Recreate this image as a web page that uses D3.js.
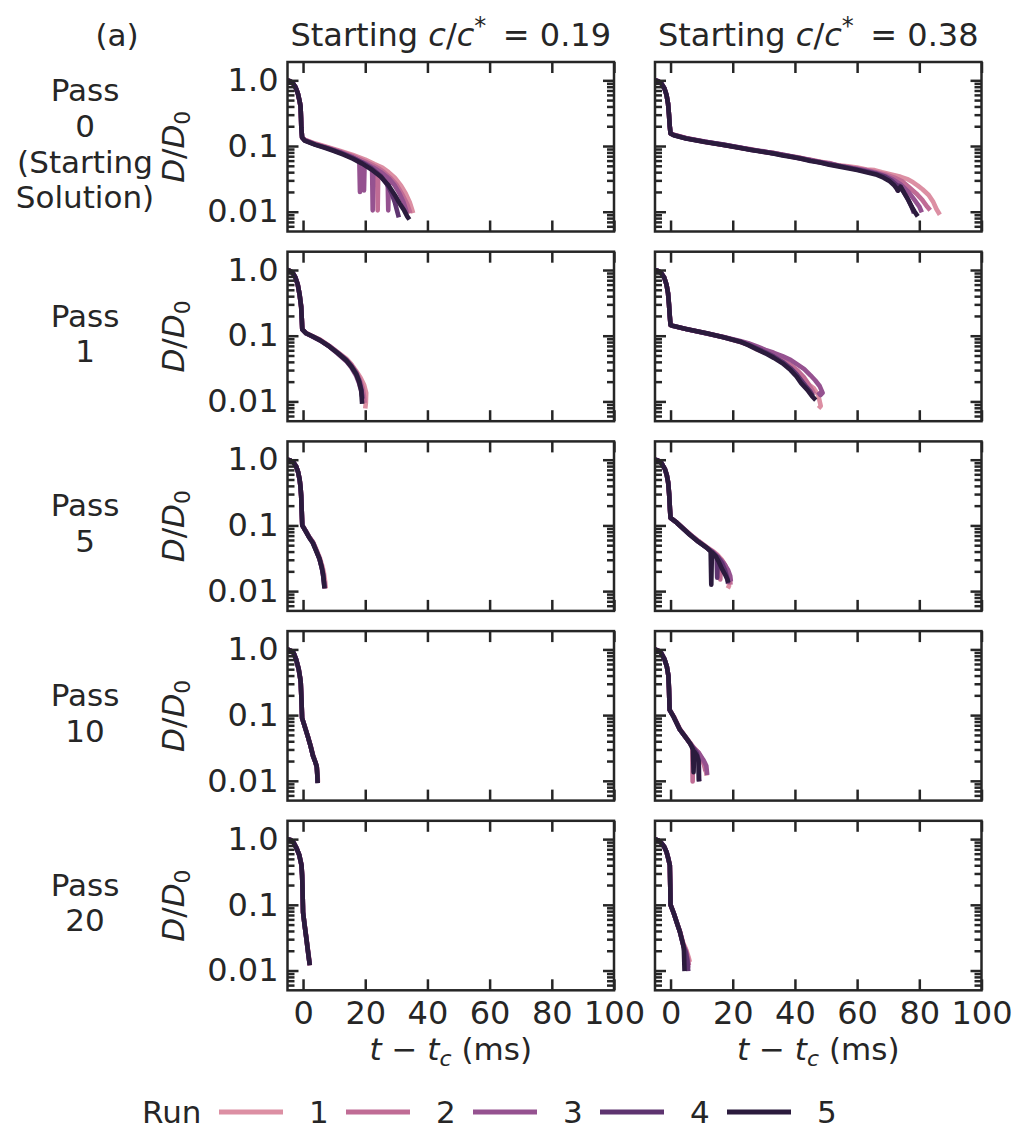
<!DOCTYPE html>
<html>
<head>
<meta charset="utf-8">
<script src="https://cdn.jsdelivr.net/npm/d3@7"></script>
<style>
body { margin: 0; background: #fff; }
text { font-family: "DejaVu Sans"; font-size: 31px; fill: #262626; }
.tick text { font-size: 32px; }
.title { font-size: 32px; }
.it { font-style: italic; }
</style>
</head>
<body>
<div class="chart"></div>
<script>
const runs = ["1", "2", "3", "4", "5"]
const runColors = ["#dc8fa3", "#c06c95", "#955290", "#5e3470", "#2b1b3d"]
const passLabels = [["Pass", "0", "(Starting", "Solution)"], ["Pass", "1"], ["Pass", "5"], ["Pass", "10"], ["Pass", "20"]]
const concs = ["0.19", "0.38"]
const xTicks = [0, 20, 40, 60, 80, 100]
const yTicks = [1, 0.1, 0.01]
const yTickLabels = ["1.0", "0.1", "0.01"]
const yMinor = [0.006, 0.007, 0.008, 0.009, 0.02, 0.03, 0.04, 0.05, 0.06, 0.07, 0.08, 0.09,
                0.2, 0.3, 0.4, 0.5, 0.6, 0.7, 0.8, 0.9]

// each panel: an onset shared by the runs, then one tail per run (run 1 .. run 5), points are [t - tc, D/D0]
const p0LowOnset = [[-5,1],[-4.2,0.97],[-3.3,0.91],[-2.5,0.8],[-1.7,0.64],[-1.1,0.48],[-0.8,0.4],[-0.65,0.27],[-0.55,0.19],[-0.3,0.135]]
const p0LowTails = [
  [[0.5,0.125],[4,0.109],[8,0.096],[12,0.084],[16,0.073],[20,0.062],[23,0.053],[25.5,0.047],[27.5,0.04],[29.5,0.033],[31.5,0.025],[33,0.019],[34.3,0.014],[35,0.011],[35.4,0.0095]],
  [[0.5,0.124],[4,0.107],[8,0.094],[12,0.082],[16,0.07],[20,0.058],[22,0.052],[23.8,0.047],[24,0.0105],[24.2,0.046],[26,0.04],[28,0.033],[30,0.026],[32,0.018],[33.5,0.013],[34.5,0.0095]],
  [[0.5,0.123],[4,0.106],[8,0.093],[12,0.08],[16,0.067],[18.1,0.059],[18.3,0.02],[18.5,0.058],[19.4,0.056],[19.6,0.021],[19.8,0.055],[22.2,0.048],[22.4,0.0105],[22.6,0.047],[25,0.04],[27.2,0.033],[27.4,0.0105],[27.6,0.032],[29.5,0.025],[31,0.019],[32.3,0.014],[33,0.011],[33.4,0.0095]],
  [[0.5,0.122],[4,0.105],[8,0.092],[12,0.079],[16,0.066],[19,0.056],[22,0.046],[25,0.035],[27,0.026],[28.5,0.019],[29.5,0.014],[30.2,0.0105],[30.8,0.0082]],
  [[0.5,0.121],[4,0.104],[7,0.094],[10,0.084],[13,0.074],[16,0.064],[19,0.054],[22,0.044],[25,0.034],[27.5,0.025],[29.5,0.018],[31,0.0135],[32.5,0.0105],[33.5,0.0085],[34.2,0.0076]]
]

const p0HighOnset = [[-5,1],[-4,0.97],[-3,0.9],[-2,0.76],[-1.3,0.6],[-0.8,0.44],[-0.5,0.3],[-0.25,0.2],[0,0.155]]
const p0HighTails = [
  [[1,0.149],[5,0.131],[11,0.115],[17,0.104],[22,0.094],[26,0.088],[30,0.082],[33,0.079],[36,0.073],[39,0.07],[42,0.066],[45,0.061],[48,0.058],[51,0.054],[54,0.051],[57,0.049],[60,0.047],[63,0.044],[65.6,0.043],[68,0.04],[70,0.038],[72,0.036],[74,0.034],[76.4,0.031],[78,0.028],[79.5,0.025],[81,0.022],[83,0.018],[84.5,0.014],[85.5,0.011],[86.6,0.009]],
  [[1,0.148],[5,0.132],[11,0.116],[17,0.105],[22,0.095],[26,0.089],[30,0.081],[33,0.078],[36,0.074],[39,0.068],[42,0.065],[45,0.062],[48,0.057],[51,0.055],[54,0.05],[57,0.048],[60,0.045],[63,0.043],[66,0.04],[69,0.037],[72,0.033],[74.5,0.029],[77,0.023],[79,0.019],[81,0.015],[82.5,0.012],[83.5,0.0105]],
  [[1,0.147],[5,0.131],[11,0.117],[17,0.104],[22,0.096],[26,0.087],[30,0.083],[33,0.077],[36,0.074],[39,0.069],[42,0.064],[45,0.061],[48,0.056],[51,0.054],[54,0.05],[57,0.047],[60,0.045],[63,0.042],[66,0.039],[69,0.035],[71.5,0.031],[74,0.026],[76.5,0.02],[78.5,0.015],[80,0.012],[80.8,0.0098]],
  [[1,0.147],[5,0.13],[11,0.116],[17,0.105],[22,0.095],[26,0.088],[30,0.082],[33,0.078],[36,0.073],[39,0.069],[42,0.065],[45,0.06],[48,0.057],[51,0.053],[54,0.05],[57,0.047],[60,0.044],[63,0.041],[66,0.038],[69,0.034],[71,0.03],[72.5,0.026],[73,0.021],[73.5,0.025],[75,0.02],[76.5,0.015],[77.5,0.012],[78.3,0.0095]],
  [[1,0.146],[5,0.13],[11,0.115],[17,0.104],[22,0.094],[26,0.087],[30,0.081],[33,0.077],[36,0.072],[39,0.068],[42,0.064],[45,0.059],[48,0.056],[51,0.052],[54,0.049],[57,0.046],[60,0.043],[63,0.04],[66,0.037],[68.5,0.033],[70.5,0.029],[72,0.025],[73.2,0.021],[74,0.024],[75.2,0.019],[76.5,0.015],[77.5,0.012],[78.5,0.01],[79.5,0.0085]]
]

const p1LowOnset = [[-5,1],[-4.2,0.97],[-3.3,0.9],[-2.5,0.78],[-1.7,0.6],[-1.1,0.42],[-0.6,0.275],[-0.4,0.18],[-0.25,0.125]]
const p1LowTails = [
  [[1,0.11],[3,0.099],[5.5,0.087],[8.5,0.07],[11,0.057],[13.9,0.045],[15.5,0.037],[17.1,0.029],[18.5,0.023],[19.6,0.018],[20.3,0.0135],[20.2,0.0095],[20,0.0078]],
  [[1,0.109],[3,0.098],[5.5,0.086],[8.5,0.069],[11,0.056],[13.9,0.043],[15.5,0.036],[17.1,0.028],[18.3,0.021],[19.2,0.016],[19.6,0.012],[19.8,0.0095]],
  [[1,0.109],[3,0.097],[5.5,0.085],[8.5,0.068],[11,0.054],[13.9,0.041],[15.5,0.033],[17,0.025],[18,0.019],[18.6,0.015],[19,0.012]],
  [[1,0.108],[3,0.098],[5.5,0.085],[8.5,0.069],[11,0.056],[13.9,0.043],[15.5,0.035],[17.1,0.027],[18.2,0.02],[18.8,0.015],[19.1,0.011]],
  [[1,0.109],[3,0.098],[5.5,0.085],[8.5,0.068],[11,0.055],[13.9,0.042],[15.5,0.034],[17.1,0.026],[18,0.02],[18.7,0.0147],[19,0.0092]]
]

const p1HighOnset = [[-5,1],[-4,0.97],[-3,0.9],[-2,0.76],[-1.3,0.6],[-0.8,0.44],[-0.5,0.3],[-0.25,0.2],[0,0.145]]
const p1HighTails = [
  [[1,0.14],[5,0.126],[11.6,0.108],[17,0.095],[22.4,0.08],[25,0.073],[27.8,0.062],[30.5,0.055],[33.2,0.048],[36,0.041],[38.6,0.034],[40.5,0.028],[42.5,0.022],[44.5,0.018],[46,0.016],[47.5,0.0125],[48.3,0.0085],[47.6,0.0078]],
  [[1,0.14],[5,0.127],[11.6,0.109],[17,0.096],[22.4,0.082],[25,0.075],[27.8,0.066],[30.5,0.058],[33.2,0.05],[36,0.043],[38.6,0.036],[41,0.029],[43,0.023],[44.5,0.018],[45.5,0.015],[46.2,0.013]],
  [[1,0.14],[5,0.127],[11.6,0.109],[17,0.096],[22.4,0.083],[25,0.077],[27.8,0.069],[30.5,0.061],[33.2,0.055],[36,0.049],[38.6,0.043],[41,0.036],[43,0.031],[45,0.025],[46.5,0.021],[48,0.017],[48.9,0.0135],[48.2,0.0125],[47.4,0.014]],
  [[1,0.14],[5,0.126],[11.6,0.108],[17,0.095],[22.4,0.081],[25,0.073],[27.8,0.064],[30.5,0.056],[33.2,0.048],[36,0.04],[38.6,0.032],[40.5,0.026],[42,0.021],[43.5,0.017],[45,0.014],[45.8,0.012]],
  [[1,0.14],[5,0.127],[11.6,0.109],[17,0.095],[22.4,0.081],[25,0.072],[27.8,0.062],[30.5,0.054],[33.2,0.046],[36,0.038],[38.6,0.03],[40.5,0.024],[42,0.019],[44,0.015],[45.5,0.012],[46.7,0.0105]]
]

const p5LowOnset = [[-5,1],[-4,0.97],[-3,0.9],[-2.2,0.79],[-1.6,0.65],[-1.1,0.5],[-0.8,0.38],[-0.6,0.28],[-0.45,0.18],[-0.25,0.1]]
const p5LowTails = [
  [[1,0.081],[2,0.067],[3.2,0.056],[4.3,0.043],[5.4,0.032],[6.2,0.024],[6.7,0.019],[7.1,0.014],[7.3,0.011]],
  [[1,0.08],[2,0.066],[3.2,0.055],[4.2,0.042],[5.3,0.031],[6.1,0.023],[6.5,0.018],[6.9,0.013],[7.1,0.011]],
  [[1,0.08],[2,0.066],[3.15,0.055],[4.2,0.042],[5.3,0.031],[6,0.023],[6.4,0.0185],[6.7,0.014],[6.9,0.0115]],
  [[1,0.08],[2,0.066],[3.15,0.055],[4.2,0.042],[5.3,0.031],[6,0.023],[6.4,0.018],[6.7,0.014],[6.9,0.011]],
  [[1,0.079],[2,0.065],[3.15,0.054],[4.2,0.041],[5.3,0.031],[6,0.023],[6.4,0.0185],[6.7,0.014],[6.9,0.011]]
]

const p5HighOnset = [[-5,1],[-4,0.97],[-3,0.9],[-1.8,0.72],[-1.2,0.58],[-0.77,0.45],[-0.45,0.3],[-0.2,0.18],[0,0.13]]
const p5HighTails = [
  [[2,0.111],[6.2,0.074],[9,0.058],[11.6,0.047],[13.5,0.041],[15,0.036],[16.5,0.03],[17.5,0.025],[18.2,0.02],[18.6,0.016],[18.8,0.012],[18.4,0.011]],
  [[2,0.11],[6.2,0.073],[9,0.057],[11.6,0.046],[13.5,0.04],[15,0.035],[15.8,0.031],[16,0.015],[16.2,0.03],[17.5,0.025],[18.6,0.019],[19.1,0.015],[19.3,0.0125]],
  [[2,0.11],[6.2,0.073],[9,0.057],[11.6,0.046],[13.5,0.04],[15,0.034],[17,0.027],[18.5,0.021],[19.2,0.017],[19.4,0.014]],
  [[2,0.11],[6.2,0.072],[9,0.056],[11.6,0.046],[13.5,0.039],[14.8,0.034],[15,0.016],[15.2,0.033],[16.5,0.027],[17.5,0.021],[18.2,0.016],[18.5,0.013]],
  [[2,0.11],[6.2,0.072],[9,0.056],[11.6,0.046],[12.9,0.04],[13.1,0.0125],[13.3,0.039],[14.5,0.034],[15.5,0.028],[16.5,0.022],[17.5,0.018],[18.3,0.015],[18.6,0.0135]]
]

const p10LowOnset = [[-5,1],[-4,0.96],[-3,0.88],[-2.2,0.7],[-1.4,0.5],[-0.9,0.36],[-0.74,0.31],[-0.5,0.17],[-0.3,0.09]]
const p10LowTails = [
  [[0.5,0.069],[1.5,0.049],[2.4,0.035],[3.2,0.025],[4,0.019],[4.5,0.016],[4.7,0.012],[4.8,0.0095]],
  [[0.5,0.068],[1.5,0.048],[2.4,0.034],[3.2,0.024],[4,0.019],[4.4,0.016],[4.6,0.012],[4.7,0.0095]],
  [[0.5,0.068],[1.5,0.048],[2.4,0.034],[3.2,0.024],[4,0.019],[4.4,0.0165],[4.6,0.012],[4.7,0.0093]],
  [[0.5,0.068],[1.5,0.048],[2.4,0.034],[3.2,0.024],[4,0.019],[4.4,0.0165],[4.6,0.012],[4.7,0.0092]],
  [[0.5,0.068],[1.5,0.048],[2.4,0.034],[3.2,0.024],[4,0.019],[4.4,0.0165],[4.6,0.012],[4.7,0.0092]]
]

const p10HighOnset = [[-5,1],[-4,0.96],[-3,0.88],[-2,0.72],[-1.2,0.55],[-0.7,0.4],[-0.5,0.25],[-0.3,0.12]]
const p10HighTails = [
  [[1,0.096],[3,0.062],[5,0.046],[6.3,0.038],[7.5,0.032],[9,0.027],[10,0.022],[11,0.0166],[11.5,0.013],[11.6,0.012]],
  [[1,0.095],[3,0.061],[5,0.045],[6.3,0.037],[7,0.033],[7.1,0.0098],[7.3,0.032],[9,0.026],[10.5,0.02],[11,0.016],[11.2,0.014]],
  [[1,0.095],[3,0.06],[5,0.045],[6.3,0.037],[7.5,0.031],[9,0.027],[10.5,0.021],[11.5,0.017],[11.8,0.0123]],
  [[1,0.094],[3,0.06],[5,0.045],[6.3,0.037],[7.5,0.031],[8.5,0.026],[9.1,0.02],[9.2,0.0105],[9.3,0.0098]],
  [[1,0.094],[3,0.06],[5,0.045],[6.3,0.037],[7.2,0.03],[7.4,0.0135],[7.6,0.028],[8.5,0.024],[9,0.02],[9.1,0.0098]]
]

const p20LowOnset = [[-5,1],[-4,0.97],[-3,0.88],[-2.1,0.73],[-1.2,0.57],[-0.5,0.4],[-0.3,0.28],[-0.2,0.2],[-0.05,0.1],[0,0.077]]
const p20LowTails = [
  [[0.5,0.05],[1.1,0.031],[1.5,0.022],[1.9,0.016],[2.2,0.012]],
  [[0.5,0.05],[1.1,0.03],[1.5,0.021],[1.9,0.015],[2.15,0.012]],
  [[0.5,0.05],[1.1,0.03],[1.5,0.021],[1.9,0.015],[2.15,0.012]],
  [[0.5,0.049],[1.1,0.03],[1.5,0.021],[1.9,0.015],[2.15,0.0125]],
  [[0.5,0.049],[1.1,0.03],[1.5,0.021],[1.9,0.015],[2.15,0.012]]
]

const p20HighOnset = [[-5,1],[-4,0.96],[-3,0.88],[-2,0.76],[-1.3,0.64],[-0.7,0.5],[-0.23,0.4],[-0.1,0.2],[0,0.1]]
const p20HighTails = [
  [[1,0.076],[2,0.055],[3,0.04],[4.1,0.026],[5,0.021],[5.8,0.016],[6.2,0.0135]],
  [[1,0.075],[2,0.054],[3,0.039],[4.1,0.025],[5,0.02],[5.6,0.015],[5.9,0.012]],
  [[1,0.075],[2,0.054],[3,0.039],[4.1,0.024],[5,0.019],[5.5,0.014],[5.7,0.011]],
  [[1,0.075],[2,0.054],[3,0.039],[4.1,0.024],[4.9,0.019],[5.4,0.014],[5.7,0.0098]],
  [[1,0.075],[2,0.054],[3,0.039],[4.1,0.024],[4.3,0.02],[4.5,0.0098]]
]

const panels = [
  [[p0LowOnset, p0LowTails], [p0HighOnset, p0HighTails]],
  [[p1LowOnset, p1LowTails], [p1HighOnset, p1HighTails]],
  [[p5LowOnset, p5LowTails], [p5HighOnset, p5HighTails]],
  [[p10LowOnset, p10LowTails], [p10HighOnset, p10HighTails]],
  [[p20LowOnset, p20LowTails], [p20HighOnset, p20HighTails]]
]

const width = 1016
const height = 1130
const colX = [287.5, 655]
const panelW = 326.5
const rowTop = 62
const rowStep = 189.7
const panelH = 169.5
const ink = "#262626"

const svg = d3.select(".chart").append("svg")
    .attr("width", width)
    .attr("height", height)

svg.append("defs").append("clipPath")
    .attr("id", "panel-clip")
  .append("rect")
    .attr("width", panelW)
    .attr("height", panelH)

const xScale = d3.scaleLinear().domain([-5, 100]).range([0, panelW])
const yScale = d3.scaleLog().domain([0.005, 1.9]).range([panelH, 0])

const line = d3.line()
    .x(d => xScale(d[0]))
    .y(d => yScale(d[1]))

function styleAxis(g) {
    g.attr("font-size", null).attr("font-family", null).attr("color", ink)
    g.select(".domain").remove()
    g.selectAll(".tick line").attr("stroke-width", 2.5)
}

panels.forEach((row, r) => {
    const top = rowTop + r * rowStep
    const last = r === panels.length - 1

    row.forEach(([onset, tails], c) => {
        const g = svg.append("g")
            .attr("transform", `translate(${colX[c]},${top})`)

        g.append("g")
            .attr("clip-path", "url(#panel-clip)")
          .selectAll("path")
          .data(tails.map(t => onset.concat(t)))
          .join("path")
            .attr("d", line)
            .attr("fill", "none")
            .attr("stroke", (d, i) => runColors[i])
            .attr("stroke-width", 4.6)
            .attr("stroke-linejoin", "round")

        g.append("g")
            .attr("transform", `translate(0,${panelH})`)
            .call(d3.axisBottom(xScale).tickValues(xTicks).tickSizeInner(-11).tickSizeOuter(0)
                .tickPadding(11).tickFormat(d => last ? d : ""))
            .call(styleAxis)
        g.append("g")
            .call(d3.axisTop(xScale).tickValues(xTicks).tickSizeInner(-11).tickSizeOuter(0).tickFormat(""))
            .call(styleAxis)
        g.append("g")
            .call(d3.axisLeft(yScale).tickValues(yTicks).tickSizeInner(-11).tickSizeOuter(0)
                .tickPadding(9).tickFormat((d, i) => c === 0 ? yTickLabels[i] : ""))
            .call(styleAxis)
        g.append("g")
            .call(d3.axisLeft(yScale).tickValues(yMinor).tickSizeInner(-7).tickSizeOuter(0).tickFormat(""))
            .call(styleAxis)
        g.append("g")
            .attr("transform", `translate(${panelW},0)`)
            .call(d3.axisRight(yScale).tickValues(yTicks).tickSizeInner(-11).tickSizeOuter(0).tickFormat(""))
            .call(styleAxis)
        g.append("g")
            .attr("transform", `translate(${panelW},0)`)
            .call(d3.axisRight(yScale).tickValues(yMinor).tickSizeInner(-7).tickSizeOuter(0).tickFormat(""))
            .call(styleAxis)

        g.append("rect")
            .attr("width", panelW)
            .attr("height", panelH)
            .attr("fill", "none")
            .attr("stroke", ink)
            .attr("stroke-width", 2.5)

        if (last) {
            const xl = g.append("text")
                .attr("x", panelW / 2)
                .attr("y", panelH + 70)
                .attr("text-anchor", "middle")
            xl.append("tspan").attr("class", "it").text("t")
            xl.append("tspan").text(" \u2212 ")
            xl.append("tspan").attr("class", "it").text("t")
            xl.append("tspan").attr("class", "it").attr("font-size", "22px").attr("dy", 6).text("c")
            xl.append("tspan").attr("dy", -6).text(" (ms)")
        }
    })

    // row label and y label
    const cy = top + panelH / 2 - 3
    const lines = passLabels[r]
    svg.append("text")
        .attr("text-anchor", "middle")
      .selectAll("tspan")
      .data(lines)
      .join("tspan")
        .attr("x", 85)
        .attr("y", (d, i) => cy + (i - (lines.length - 1) / 2) * 35.7 + 11)
        .text(d => d)

    const yl = svg.append("text")
        .attr("transform", `translate(184,${top + panelH / 2}) rotate(-90)`)
        .attr("text-anchor", "middle")
    yl.append("tspan").attr("class", "it").text("D")
    yl.append("tspan").text("/")
    yl.append("tspan").attr("class", "it").text("D")
    yl.append("tspan").attr("font-size", "22px").attr("dy", 6).text("0")
})

// column titles
concs.forEach((v, c) => {
    const t = svg.append("text")
        .attr("class", "title")
        .attr("x", colX[c] + panelW / 2)
        .attr("y", 46)
        .attr("text-anchor", "middle")
    t.append("tspan").text("Starting ")
    t.append("tspan").attr("class", "it").text("c")
    t.append("tspan").text("/")
    t.append("tspan").attr("class", "it").text("c")
    t.append("tspan").attr("font-size", "24px").attr("dy", -12).text("*")
    t.append("tspan").attr("dy", 12).text("\u2009 = " + v)
})

svg.append("text")
    .attr("x", 117)
    .attr("y", 46)
    .attr("text-anchor", "middle")
    .text("(a)")

// legend
const legendY = 1112
const legendX0 = 219
const legendStep = 127
svg.append("text")
    .attr("x", 142)
    .attr("y", legendY + 11)
    .text("Run")

const items = svg.append("g")
  .selectAll("g")
  .data(runs)
  .join("g")
    .attr("transform", (d, i) => `translate(${legendX0 + i * legendStep},${legendY})`)
items.append("line")
    .attr("x2", 64)
    .attr("stroke", (d, i) => runColors[i])
    .attr("stroke-width", 5)
items.append("text")
    .attr("x", 90)
    .attr("y", 11)
    .text(d => d)
</script>
</body>
</html>
